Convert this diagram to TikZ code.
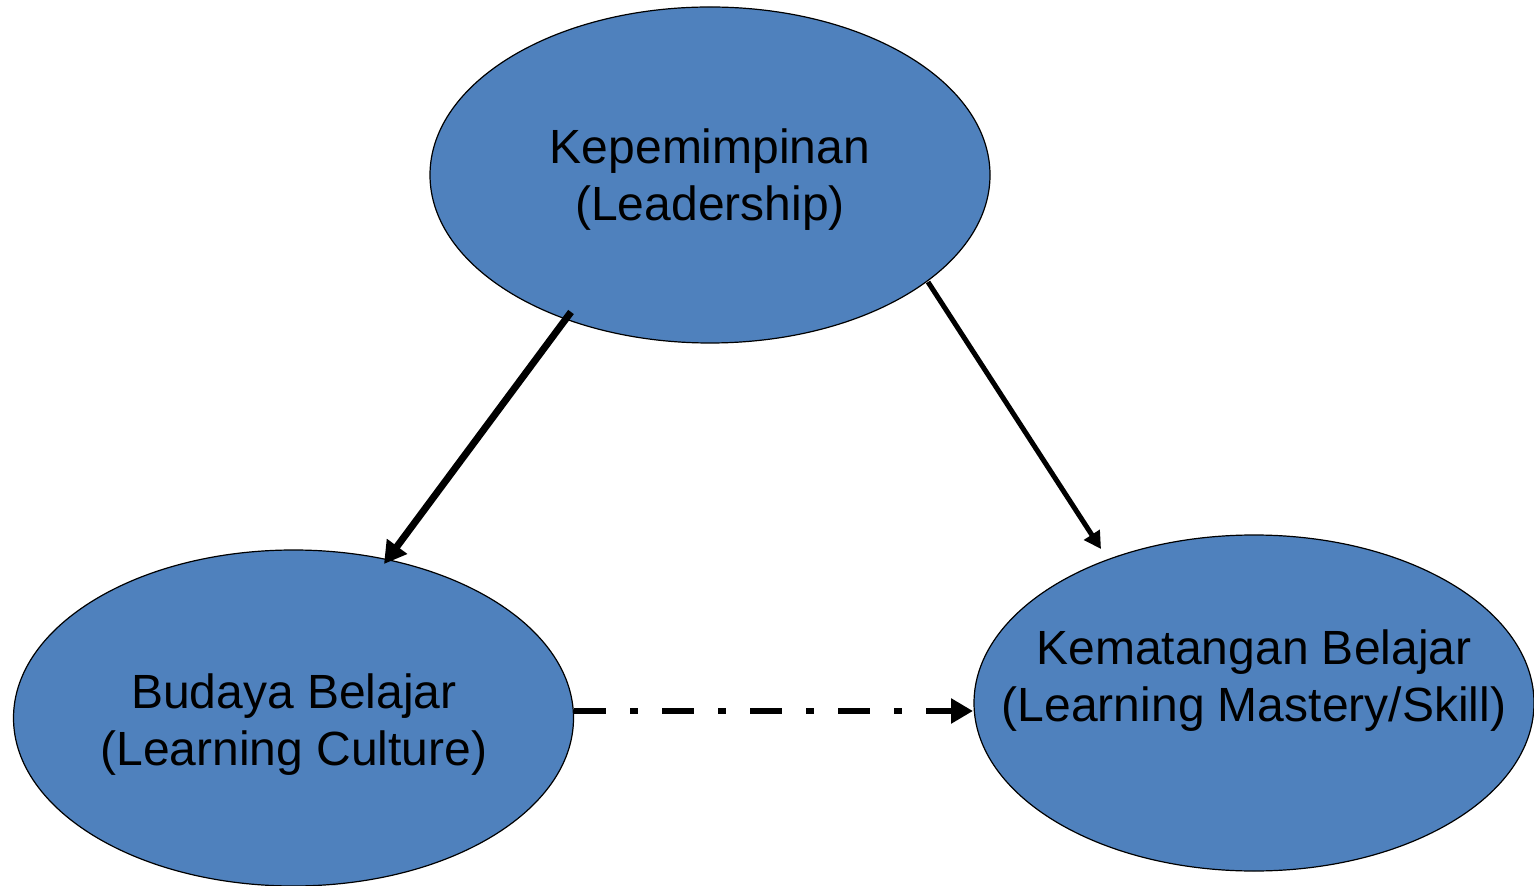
\documentclass[tikz,border=0pt]{standalone}
\usepackage{fontspec}
\setmainfont{Liberation Sans}
\usetikzlibrary{shapes.geometric,arrows.meta}
\definecolor{ovalblue}{HTML}{4F81BD}
\begin{document}
\begin{tikzpicture}[x=0.5pt,y=-0.5pt,
  oval/.style={ellipse,draw=black,line width=0.6pt,fill=ovalblue,inner sep=0pt,minimum width=280pt,minimum height=168pt},
  lbl/.style={align=center,font=\fontsize{24pt}{28.5pt}\selectfont,text=black},
  conn/.style={draw=black,line cap=butt}]
\useasboundingbox (0,0) rectangle (1534,886);
\node[oval] (lead) at (710,175) {};
\node[oval] (cult) at (293.5,718) {};
\node[oval] (mast) at (1254,703) {};
\node[lbl] (leadt) at (710,180) {Kepemimpinan\\(Leadership)};
\node[lbl] (cultt) at (294,725) {Budaya Belajar\\(Learning Culture)};
\node[lbl] (mastt) at (1254,681) {Kematangan Belajar\\(Learning Mastery/Skill)};
\coordinate (a1s) at (571,312);
\coordinate (a1e) at (384,564);
\coordinate (a2s) at (928,282);
\coordinate (a2e) at (1101,549);
\coordinate (a3s) at (574,711);
\coordinate (a3e) at (973,711);
\draw[conn,line width=3.5pt,-{Triangle[length=11pt,width=12pt]}] (a1s) -- (a1e);
\draw[conn,line width=2.5pt,-{Triangle[length=8.5pt,width=9pt]}] (a2s) -- (a2e);
\draw[conn,line width=3pt,dash pattern=on 16pt off 12pt on 4pt off 12pt,-{Triangle[length=11pt,width=12pt]}] (a3s) -- (a3e);
\end{tikzpicture}
\end{document}
